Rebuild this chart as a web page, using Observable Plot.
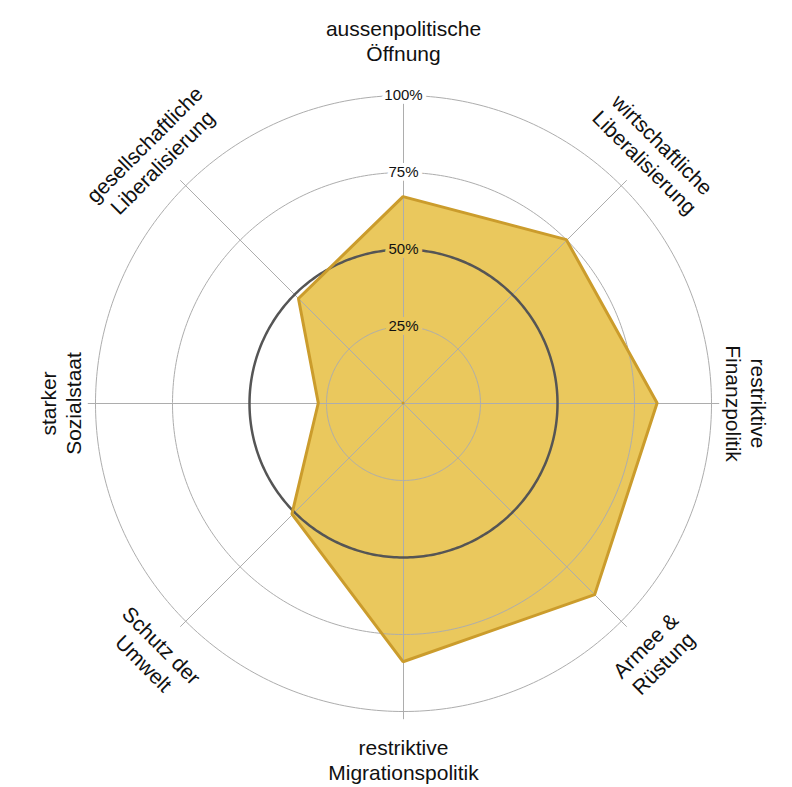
<!DOCTYPE html>
<html>
<head>
<meta charset="utf-8">
<script src="https://cdn.jsdelivr.net/npm/d3@7"></script>
<script src="https://cdn.jsdelivr.net/npm/@observablehq/plot@0.6"></script>
<style>
  html, body { margin: 0; padding: 0; background: #fff; }
  #chart svg { display: block; overflow: visible; }
</style>
</head>
<body>
<div id="chart"></div>
<script>
// ---- data ----
const categories = [
  "aussenpolitische\nÖffnung",
  "wirtschaftliche\nLiberalisierung",
  "restriktive\nFinanzpolitik",
  "Armee &\nRüstung",
  "restriktive\nMigrationspolitik",
  "Schutz der\nUmwelt",
  "starker\nSozialstaat",
  "gesellschaftliche\nLiberalisierung"
];
const values = [67, 75, 82.5, 88, 84, 51, 27.5, 48];
const ticks = [25, 50, 75, 100];
const tickLabels = ["25%", "50%", "75%", "100%"];

// ---- styling ----
const fillColor = "#EAC85D";
const strokeColor = "#CB9C2C";
const gridColor = "#ADADAD";
const font = "'Liberation Sans', Arial, Helvetica, sans-serif";

const n = categories.length;
const points = categories.map((c, i) => ({ key: c, value: values[i], angle: 360 * i / n }));
// clockwise angle from top -> longitude in north-polar azimuthal view
const lon = (angle) => 180 - angle;
const lat = (pct) => 90 - pct / 100;
const rot = (a) => (a <= 90 ? a : a < 270 ? a - 180 : a - 360);
const labelR = (a) => (a === 0 ? 118 : a === 180 ? 115.6 : a % 180 === 90 ? 111.5 : 115);

const plot = Plot.plot({
  width: 792,
  height: 787,
  marginLeft: 23,
  marginRight: 9,
  marginTop: 23,
  marginBottom: 4,
  style: { fontFamily: font, background: "transparent", overflow: "visible" },
  projection: {
    type: "azimuthal-equidistant",
    rotate: [0, -90],
    domain: d3.geoCircle().center([0, 90]).radius(380 / 308).precision(1)()
  },
  marks: [
    // filled profile
    Plot.area(points, {
      x1: (d) => lon(d.angle),
      y1: (d) => lat(d.value),
      x2: 0,
      y2: 90,
      fill: fillColor,
      stroke: "none",
      curve: "linear-closed"
    }),
    // light grid circles
    Plot.geo(ticks.filter((t) => t !== 50), {
      geometry: (t) => d3.geoCircle().center([0, 90]).radius(t / 100).precision(1)(),
      stroke: gridColor,
      fill: "none",
      strokeWidth: 1
    }),
    // spokes
    Plot.link(points, {
      x1: 0,
      y1: 90,
      x2: (d) => lon(d.angle),
      y2: lat(102.5),
      stroke: gridColor,
      strokeWidth: 1
    }),
    // 50% reference circle
    Plot.geo([50], {
      geometry: (t) => d3.geoCircle().center([0, 90]).radius(t / 100).precision(1)(),
      stroke: "#555555",
      fill: "none",
      strokeWidth: 2.5
    }),
    // profile outline
    Plot.area(points, {
      x1: (d) => lon(d.angle),
      y1: (d) => lat(d.value),
      x2: 0,
      y2: 90,
      fill: "none",
      stroke: strokeColor,
      strokeWidth: 3,
      strokeLinejoin: "miter",
      curve: "linear-closed"
    }),
    // tick labels with halo
    Plot.text(ticks, {
      x: 180,
      y: (t) => lat(t),
      text: (t, i) => tickLabels[i],
      fontSize: 15,
      fill: "#111",
      stroke: (t) => (t < values[0] ? fillColor : "white"),
      strokeWidth: 8,
      textAnchor: "middle",
      lineAnchor: "middle"
    }),
    // category labels
    Plot.text(points, {
      x: (d) => lon(d.angle),
      y: (d) => lat(labelR(d.angle)),
      text: "key",
      rotate: (d) => rot(d.angle),
      fontSize: 21,
      lineHeight: 1.2,
      fill: "#111",
      textAnchor: "middle",
      lineAnchor: "middle"
    })
  ]
});

document.getElementById("chart").appendChild(plot);
</script>
</body>
</html>
